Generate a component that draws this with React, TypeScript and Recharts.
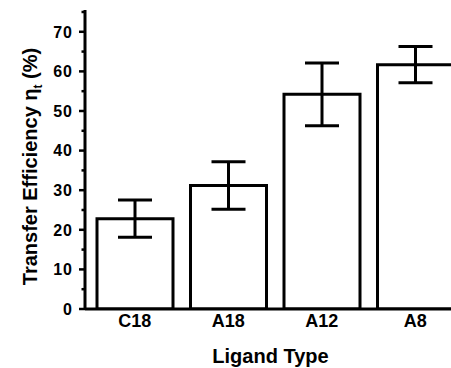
import { BarChart, Bar, XAxis, YAxis, ErrorBar } from "recharts";

const ligands = ["C18", "A18", "A12", "A8"];
const efficiency = [22.8, 31.2, 54.2, 61.7];
const errors = [4.7, 6.0, 7.9, 4.6];
const yTicks = [0, 5, 10, 15, 20, 25, 30, 35, 40, 45, 50, 55, 60, 65, 70, 75];

const data = ligands.map((name, i) => ({
  name,
  value: efficiency[i],
  err: errors[i],
}));

const font = "Arial, 'Liberation Sans', Helvetica, sans-serif";

const YTick = ({ x, y, payload }: { x: number; y: number; payload: { value: number } }) => {
  const major = payload.value % 10 === 0;
  return (
    <g>
      <line x1={x - (major ? 6 : 3.5)} x2={x} y1={y} y2={y} stroke="#000" strokeWidth={2.5} />
      {major && (
        <text
          x={x - 12}
          y={y}
          dy="0.36em"
          textAnchor="end"
          fontFamily={font}
          fontWeight="bold"
          fontSize={16}
          letterSpacing={1}
          fill="#000"
        >
          {payload.value}
        </text>
      )}
    </g>
  );
};

const YLabel = ({ viewBox }: { viewBox?: { x: number; y: number; width: number; height: number } }) => {
  if (!viewBox) return null;
  const cx = 37;
  const cy = viewBox.y + viewBox.height / 2 + 7;
  return (
    <text
      x={cx}
      y={cy}
      transform={`rotate(-90, ${cx}, ${cy})`}
      textAnchor="middle"
      fontFamily={font}
      fontWeight="bold"
      fontSize={20}
      fill="#000"
    >
      Transfer Efficiency η
      <tspan fontSize={12} dy={5}>t</tspan>
      <tspan dy={-5}> (%)</tspan>
    </text>
  );
};

const XLabel = ({ viewBox }: { viewBox?: { x: number; y: number; width: number; height: number } }) => {
  if (!viewBox) return null;
  return (
    <text
      x={viewBox.x + viewBox.width / 2 - 3}
      y={363}
      textAnchor="middle"
      fontFamily={font}
      fontWeight="bold"
      fontSize={20}
      fill="#000"
    >
      Ligand Type
    </text>
  );
};

export default function App() {
  return (
    <div
      style={{
        position: "fixed",
        left: 0,
        top: 0,
        width: 451,
        height: 368,
        overflow: "hidden",
        background: "#fff",
      }}
    >
      <BarChart
        width={462}
        height={368}
        data={data}
        margin={{ top: 10, right: 0, bottom: 0, left: 0 }}
        barSize={76}
      >
        <XAxis
          dataKey="name"
          height={59}
          padding={{ left: 3, right: 0 }}
          axisLine={{ stroke: "#000", strokeWidth: 3 }}
          tickLine={false}
          tickSize={0}
          tickMargin={5}
          tick={{ fill: "#000", fontSize: 18, fontWeight: "bold", fontFamily: font }}
          label={<XLabel />}
        />
        <YAxis
          width={85}
          domain={[0, 75.5]}
          ticks={yTicks}
          interval={0}
          allowDataOverflow
          axisLine={{ stroke: "#000", strokeWidth: 3 }}
          tickLine={false}
          tickSize={0}
          tickMargin={0}
          tick={YTick}
          label={<YLabel />}
        />
        <Bar dataKey="value" fill="#fff" stroke="#000" strokeWidth={3} isAnimationActive={false}>
          <ErrorBar
            dataKey="err"
            direction="y"
            width={17}
            stroke="#000"
            strokeWidth={3}
            isAnimationActive={false}
          />
        </Bar>
      </BarChart>
    </div>
  );
}
